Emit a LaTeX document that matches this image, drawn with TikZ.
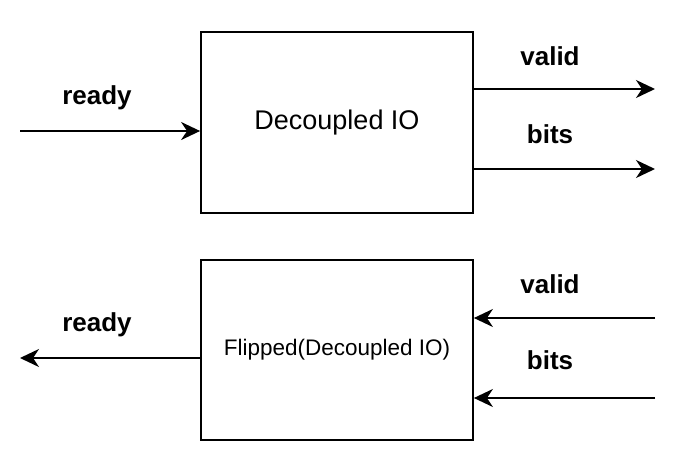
\documentclass[tikz,border=0pt]{standalone}
\usepackage{fontspec}
\setmainfont{Liberation Sans}
\usetikzlibrary{arrows.meta, positioning, calc}

\begin{document}
\begin{tikzpicture}[x=1pt, y=-1pt,
	blk/.style={draw, line width=1.8pt, minimum width=272pt, minimum height=180pt, inner sep=0pt},
	sig/.style={line width=1.8pt, -{Stealth[length=19pt, width=18pt, inset=6pt]}},
	lbl/.style={anchor=base, font=\fontsize{26}{30}\selectfont\bfseries}]
	\useasboundingbox (0,0) rectangle (689,472);
	\node[blk, minimum height=181pt, font=\fontsize{27}{32}\selectfont] (dec) at (337,122.5) {\raisebox{-2pt}{Decoupled IO}};
	\node[blk, font=\fontsize{22.5}{27}\selectfont] (flip) at (337,350) {\raisebox{-2pt}{Flipped(Decoupled IO)}};
	% ready
	\coordinate (rin) at (20,131);
	\coordinate (rout) at (20,358);
	\draw[sig] (rin) -- (rin -| dec.west);
	\draw[sig] (rout -| flip.west) -- (rout);
	\node[lbl] (rdyin) at (97,104) {ready};
	\node[lbl] (rdyout) at (97,331) {ready};
	% valid / bits
	\foreach \t/\ya/\yb/\la/\lb in {valid/89/318/65/293, bits/169/398/143/369}{
		\coordinate (o\t) at (655,\ya);
		\coordinate (i\t) at (655,\yb);
		\draw[sig] (dec.east |- o\t) -- (o\t);
		\draw[sig] (i\t) -- (flip.east |- i\t);
		\node[lbl] (lo\t) at (550,\la) {\t};
		\node[lbl] (li\t) at (550,\lb) {\t};
	}
\end{tikzpicture}
\end{document}
